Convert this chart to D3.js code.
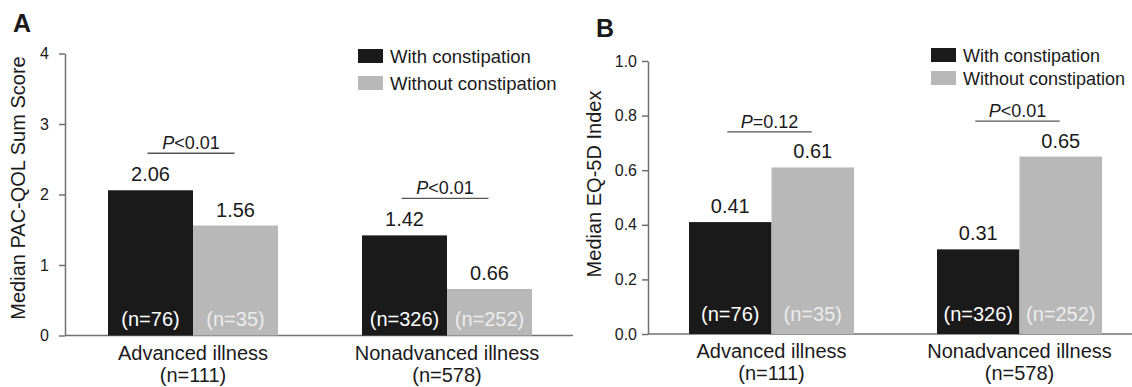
<!DOCTYPE html>
<html>
<head>
<meta charset="utf-8">
<script src="https://cdn.jsdelivr.net/npm/d3@7"></script>
<style>
  body { margin: 0; background: #fff; }
  svg text { font-family: "Liberation Sans", Arial, Helvetica, sans-serif; fill: #1a1a1a; }
  .axis path, .axis line { stroke: #707070; stroke-width: 1.5; }
</style>
</head>
<body>
<div id="chart"></div>
<script>
// data
const groups = ["Advanced illness", "Nonadvanced illness"];
const groupN = ["(n=111)", "(n=578)"];
const series = ["With constipation", "Without constipation"];
const subgroupN = [[76, 35], [326, 252]];

const pacqolValues = [[2.06, 1.56], [1.42, 0.66]];
const pacqolP = ["P<0.01", "P<0.01"];
const pacqolTicks = [0, 1, 2, 3, 4];

const eq5dValues = [[0.41, 0.61], [0.31, 0.65]];
const eq5dP = ["P=0.12", "P<0.01"];
const eq5dTicks = [0, 0.2, 0.4, 0.6, 0.8, 1.0];

// frame
const WIDTH = 1132;
const HEIGHT = 387;

const barColor = d3.scaleOrdinal().domain(series).range(["#1a1a1a", "#b8b8b8"]);
const nColor = d3.scaleOrdinal().domain(series).range(["#ffffff", "#ececec"]);

const svg = d3.select("#chart")
  .append("svg")
  .attr("width", WIDTH)
  .attr("height", HEIGHT);

// draws one panel (A or B)
function drawPanel(p) {
  const g = svg.append("g");

  const y = d3.scaleLinear()
    .domain([0, p.ticks[p.ticks.length - 1]])
    .range([p.bottom, p.top]);

  const x = d3.scaleBand()
    .domain(groups)
    .range(p.xRange);

  const xInner = d3.scaleBand()
    .domain(series)
    .range(p.innerRange);

  // x baseline
  g.append("g")
    .attr("class", "axis")
    .attr("transform", "translate(0," + p.bottom + ")")
    .call(d3.axisBottom(x).tickSize(0).tickSizeOuter(0).tickFormat(""))
    .select(".domain")
    .attr("d", "M" + p.axisX + ",0H" + p.xEnd);

  // bars
  groups.forEach((grp, i) => {
    const gx = x(grp);
    const vals = p.values[i];

    g.selectAll(null)
      .data(series)
      .enter()
      .append("rect")
      .attr("x", (s) => gx + xInner(s))
      .attr("y", (s, j) => y(vals[j]))
      .attr("width", xInner.bandwidth())
      .attr("height", (s, j) => p.bottom - y(vals[j]))
      .attr("fill", (s) => barColor(s));

    // value labels
    g.selectAll(null)
      .data(series)
      .enter()
      .append("text")
      .attr("x", (s) => gx + xInner(s) + xInner.bandwidth() / 2)
      .attr("y", (s, j) => y(vals[j]) - 9)
      .attr("text-anchor", "middle")
      .style("font-size", "20px")
      .text((s, j) => vals[j].toFixed(2));

    // n labels inside bars
    g.selectAll(null)
      .data(series)
      .enter()
      .append("text")
      .attr("x", (s) => gx + xInner(s) + xInner.bandwidth() / 2)
      .attr("y", p.bottom - p.nOffset)
      .attr("text-anchor", "middle")
      .style("font-size", "20px")
      .style("fill", (s) => nColor(s))
      .text((s, j) => "(n=" + subgroupN[i][j] + ")");

    // significance line and P label
    const lineY = y(d3.max(vals)) - p.pGap;
    const x1 = gx + xInner(series[0]) + xInner.bandwidth() / 2 - 3;
    const x2 = gx + xInner(series[1]) + xInner.bandwidth() / 2 - 1;
    g.append("line")
      .attr("x1", x1).attr("x2", x2)
      .attr("y1", lineY).attr("y2", lineY)
      .attr("stroke", "#555")
      .attr("stroke-width", 1.3);
    const pt = g.append("text")
      .attr("x", (x1 + x2) / 2)
      .attr("y", lineY - 4)
      .attr("text-anchor", "middle")
      .style("font-size", "18px");
    pt.append("tspan").style("font-style", "italic").text(p.pLabels[i].charAt(0));
    pt.append("tspan").text(p.pLabels[i].slice(1));

    // group labels under axis
    g.append("text")
      .attr("x", gx + x.bandwidth() / 2)
      .attr("y", p.bottom + 24)
      .attr("text-anchor", "middle")
      .style("font-size", "20px")
      .text(grp);
    g.append("text")
      .attr("x", gx + x.bandwidth() / 2)
      .attr("y", p.bottom + 46)
      .attr("text-anchor", "middle")
      .style("font-size", "20px")
      .text(groupN[i]);
  });

  // y axis
  const yAxis = g.append("g")
    .attr("class", "axis")
    .attr("transform", "translate(" + p.axisX + ",0)")
    .call(d3.axisLeft(y)
      .tickValues(p.ticks)
      .tickSize(6)
      .tickSizeOuter(0)
      .tickPadding(p.tickPad)
      .tickFormat(p.tickFormat));
  yAxis.selectAll("text")
    .style("font-size", "16px")
    .style("font-family", "'Liberation Sans', Arial, sans-serif")
    .attr("fill", "#1a1a1a");

  // y title
  g.append("text")
    .attr("transform", "translate(" + p.titleX + "," + p.titleY + ") rotate(-90)")
    .attr("text-anchor", "middle")
    .style("font-size", "20px")
    .text(p.yTitle);

  // panel letter
  g.append("text")
    .attr("x", p.letterX)
    .attr("y", p.letterY)
    .style("font-size", "25px")
    .style("font-weight", "bold")
    .text(p.letter);

  // legend
  const leg = g.selectAll(null)
    .data(series)
    .enter()
    .append("g")
    .attr("transform", (s, i) => "translate(" + p.legendX + "," + (p.legendY + i * p.legendStep) + ")");
  leg.append("rect")
    .attr("width", 25)
    .attr("height", 14)
    .attr("fill", (s) => barColor(s));
  leg.append("text")
    .attr("x", 32)
    .attr("y", 14)
    .style("font-size", p.legendFont)
    .text((s) => s);
}

drawPanel({
  letter: "A", letterX: 13, letterY: 32,
  values: pacqolValues, pLabels: pacqolP, ticks: pacqolTicks,
  tickFormat: d3.format("d"), tickPad: 10,
  yTitle: "Median PAC-QOL Sum Score", titleX: 25, titleY: 188,
  axisX: 65, xEnd: 573, top: 53.5, bottom: 335.5,
  xRange: [66, 574], innerRange: [42, 212],
  nOffset: 10, pGap: 37,
  legendX: 358, legendY: 49, legendStep: 27, legendFont: "18.5px"
});

drawPanel({
  letter: "B", letterX: 596, letterY: 37,
  values: eq5dValues, pLabels: eq5dP, ticks: eq5dTicks,
  tickFormat: d3.format(".1f"), tickPad: 5,
  yTitle: "Median EQ-5D Index", titleX: 601, titleY: 184,
  axisX: 648, xEnd: 1132, top: 61, bottom: 334,
  xRange: [647.5, 1143.5], innerRange: [41.5, 206.5],
  nOffset: 13, pGap: 35.5,
  legendX: 931, legendY: 48, legendStep: 23, legendFont: "18px"
});
</script>
</body>
</html>
